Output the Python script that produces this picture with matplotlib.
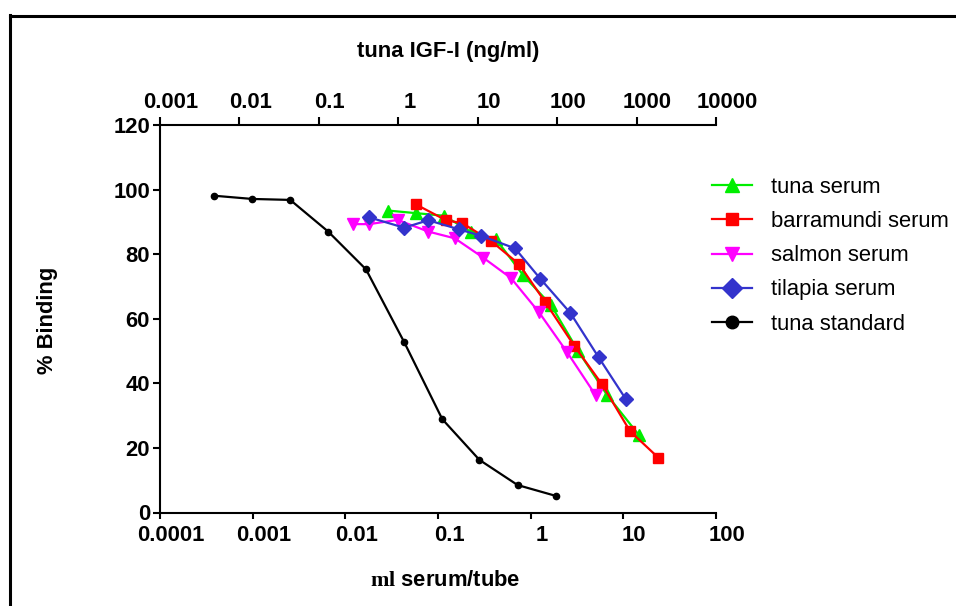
import matplotlib
matplotlib.use('Agg')
import matplotlib.pyplot as plt
from matplotlib.lines import Line2D
from matplotlib.transforms import ScaledTranslation

# serum dilutions, ul serum/tube (bottom axis) and % binding
tuna_x = [0.029, 0.058, 0.116, 0.227, 0.423, 0.83, 1.66, 3.24, 6.67, 14.7]
tuna_y = [93.5, 92.7, 91.9, 86.9, 84.6, 73.5, 64.2, 50.1, 36.4, 24.0]

barra_x = [0.0578, 0.122, 0.183, 0.373, 0.749, 1.44, 2.97, 5.89, 11.8, 23.8]
barra_y = [95.4, 90.5, 89.6, 84.1, 76.9, 65.1, 51.5, 39.7, 25.2, 17.0]

salmon_x = [0.0122, 0.0181, 0.0367, 0.0786, 0.152, 0.308, 0.613, 1.23, 2.48, 5.03]
salmon_y = [89.3, 89.3, 90.6, 87.0, 84.9, 78.9, 72.6, 62.0, 49.6, 36.3]

tilapia_x = [0.0181, 0.043, 0.0786, 0.168, 0.290, 0.678, 1.27, 2.68, 5.40, 10.7]
tilapia_y = [91.4, 88.2, 90.5, 87.7, 85.7, 81.8, 72.4, 61.8, 48.1, 35.0]

# tuna IGF-I standard, ng/ml (top axis)
std_x = [0.0048, 0.0145, 0.0436, 0.131, 0.392, 1.19, 3.58, 10.5, 31.8, 97.5]
std_y = [98.1, 97.1, 96.8, 87.0, 75.3, 52.7, 28.9, 16.3, 8.5, 5.1]

bottom_ticks = [1e-4, 1e-3, 1e-2, 1e-1, 1, 10, 100]
bottom_labels = ['0.0001', '0.001', '0.01', '0.1', '1', '10', '100']
top_ticks = [1e-3, 1e-2, 1e-1, 1, 10, 100, 1000, 10000]
top_labels = ['0.001', '0.01', '0.1', '1', '10', '100', '1000', '10000']
y_ticks = [0, 20, 40, 60, 80, 100, 120]

plt.rcParams['font.family'] = ['Liberation Sans', 'DejaVu Sans']
plt.rcParams['font.weight'] = 'bold'
plt.rcParams['mathtext.fontset'] = 'custom'
plt.rcParams['mathtext.rm'] = 'Liberation Serif'

fs = 15.8
W, H = 956, 606

fig = plt.figure(figsize=(W / 100, H / 100), dpi=100)
ax = fig.add_axes([160 / W, 1 - 512.5 / H, 556 / W, 387.5 / H])

ax.set_xscale('log')
ax.set_xlim(1e-4, 100)
ax.set_ylim(0, 120)

ax2 = ax.twiny()
ax2.set_xscale('log')
ax2.set_xlim(1e-3, 1e4)

lw = 1.6
h1, = ax.plot(tuna_x, tuna_y, color='#00ee00', marker='^', ms=8, lw=lw, label='tuna serum')
h2, = ax.plot(barra_x, barra_y, color='#ff0000', marker='s', ms=7, lw=lw, label='barramundi serum')
h3, = ax.plot(salmon_x, salmon_y, color='#ff00ff', marker='v', ms=8, lw=lw, label='salmon serum')
h4, = ax.plot(tilapia_x, tilapia_y, color='#3333cc', marker='D', ms=7, lw=lw, label='tilapia serum')
h5, = ax2.plot(std_x, std_y, color='black', marker='o', ms=4.5, lw=lw, label='tuna standard')

for a in (ax, ax2):
    for s in a.spines.values():
        s.set_linewidth(1.5)
    a.spines['right'].set_visible(False)
ax.spines['top'].set_visible(False)
ax2.spines['bottom'].set_visible(False)
ax2.spines['left'].set_visible(False)

ax.set_xticks(bottom_ticks)
ax.set_xticklabels(bottom_labels)
ax.xaxis.set_minor_locator(matplotlib.ticker.NullLocator())
ax.set_yticks(y_ticks)
ax.tick_params(axis='x', length=4, width=1.5, labelsize=fs, pad=5)
ax.tick_params(axis='y', length=5, width=1.5, labelsize=fs, pad=2.2)

ax2.set_xticks(top_ticks)
ax2.set_xticklabels(top_labels)
ax2.xaxis.set_minor_locator(matplotlib.ticker.NullLocator())
ax2.tick_params(axis='x', length=6, width=1.5, labelsize=fs, pad=3)

# x tick labels sit a little to the right of their ticks in the original
shift = ScaledTranslation(11 / 100, 0, fig.dpi_scale_trans)
for lab in ax.get_xticklabels() + ax2.get_xticklabels():
    lab.set_transform(lab.get_transform() + shift)

fig.text(448 / W, 1 - 52 / H, 'tuna IGF-I (ng/ml)', ha='center', va='center', fontsize=fs)
fig.text(445 / W, 1 - 580 / H, r'$\mathrm{ml}$ serum/tube', ha='center', va='center', fontsize=fs)
fig.text(47 / W, 1 - 320 / H, '% Binding', ha='center', va='center', rotation=90, fontsize=fs)

leg = fig.legend(handles=[h1, h2, h3, h4, h5], loc='upper left',
                 bbox_to_anchor=(712 / W, 1 - 177 / H), frameon=False,
                 prop={'size': fs, 'weight': 'normal'}, handlelength=1.8,
                 handletextpad=0.9, labelspacing=0.6, borderpad=0, borderaxespad=0)
for ln, ms in zip(leg.get_lines(), [10, 9, 10, 10, 9]):
    ln.set_markersize(ms)

# outer frame (only top and left edges show)
fig.add_artist(Line2D([9.5 / W, 9.5 / W], [0, 1 - 15 / H], color='black', lw=2.2))
fig.add_artist(Line2D([9.5 / W, 1], [1 - 16 / H, 1 - 16 / H], color='black', lw=2.2))

fig.savefig('out.png', dpi=100)
